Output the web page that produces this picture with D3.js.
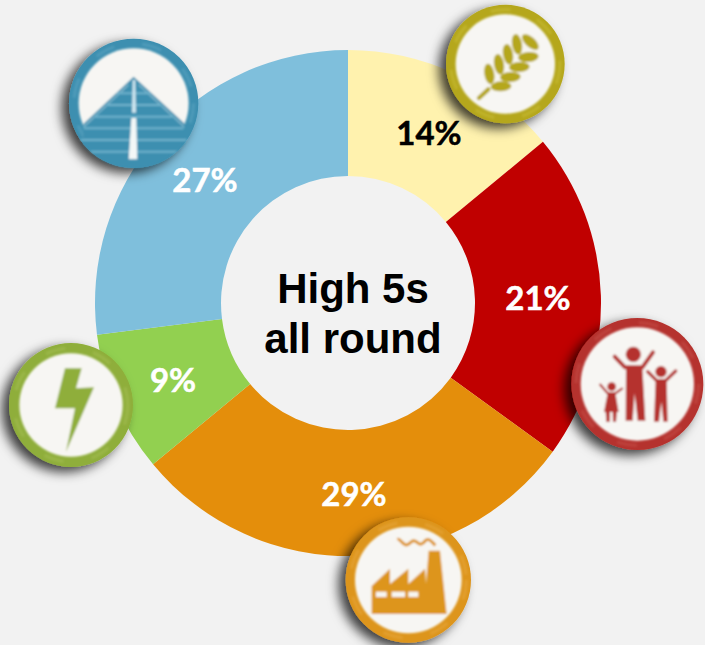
<!DOCTYPE html>
<html>
<head>
<meta charset="utf-8">
<script src="https://cdn.jsdelivr.net/npm/d3@7"></script>
<style>
    html, body { margin: 0; padding: 0; background: #f2f2f2; overflow: hidden; }
    text { font-family: "Liberation Sans", Arial, sans-serif; }
</style>
</head>
<body>
<div id="chart"></div>
<script>
const categories = ["Agriculture", "Families", "Industry", "Energy", "Roads"];
const shares = [14, 21, 29, 9, 27];
const sliceColors = ["#fff2ae", "#c00000", "#e48e0b", "#92d050", "#7fbfdc"];
const labelColors = ["#000000", "#ffffff", "#ffffff", "#ffffff", "#ffffff"];
const centerLines = ["High 5s", "all round"];

// hand placed, the labels don't sit on the centroids in the original
const labelSpots = [[429, 133], [538, 298], [354, 494], [173, 380], [205, 180]];

const width = 705;
const height = 645;
const center = { x: 348, y: 303 };
const outerRadius = 253;
const innerRadius = 127;

const svg = d3
    .select("#chart")
    .append("svg")
    .attr("width", width)
    .attr("height", height)
    .style("display", "block");

const defs = svg.append("defs");

// badges are scaled by 1/3 so these filter numbers are 3x what they look like
const shadow = defs.append("filter")
    .attr("id", "badge-shadow")
    .attr("x", "-40%").attr("y", "-40%")
    .attr("width", "180%").attr("height", "180%");
shadow.append("feDropShadow")
    .attr("dx", -21).attr("dy", 15)
    .attr("stdDeviation", 18)
    .attr("flood-color", "#000")
    .attr("flood-opacity", 0.75);

const soft = defs.append("filter").attr("id", "soft");
soft.append("feGaussianBlur").attr("stdDeviation", 2.5);

// Draw donut
const pie = d3.pie().sort(null).value(d => d.value);
const arc = d3.arc().innerRadius(innerRadius).outerRadius(outerRadius);

const slices = categories.map((name, i) => ({ name, value: shares[i] }));

svg.append("g")
    .attr("class", "slices")
    .attr("transform", `translate(${center.x}, ${center.y})`)
    .selectAll("path")
    .data(pie(slices))
    .enter()
    .append("path")
    .attr("d", arc)
    .attr("fill", (d, i) => sliceColors[i]);

// Badges. Icon shapes are traced in the 3x crop frame of each badge, hence the scale(1/3)
const badges = [
    { name: "Agriculture", origin: [440, 0], c: [196, 192], outer: 178, inner: 149, ring: "#b5a71c", light: "#d8cc4a", icon: wheat },
    { name: "Families", origin: [565, 310], c: [217, 222], outer: 198, inner: 170, ring: "#b5332e", light: "#d0625c", icon: family },
    { name: "Industry", origin: [340, 510], c: [205, 210], outer: 188, inner: 160, ring: "#dd951f", light: "#efb452", icon: factory },
    { name: "Energy", origin: [0, 340], c: [213, 195], outer: 186, inner: 155, ring: "#8fae3a", light: "#b3cb68", icon: bolt },
    { name: "Roads", origin: [60, 30], c: [221, 220], outer: 194, inner: 165, ring: "#3d8fb0", light: "#6fb2cc", icon: road }
];

badges.forEach(b => {
    const g = svg.append("g")
        .attr("class", "badge " + b.name.toLowerCase())
        .attr("transform", `translate(${b.origin[0]}, ${b.origin[1]}) scale(${1 / 3})`);

    g.append("circle")
        .attr("cx", b.c[0]).attr("cy", b.c[1])
        .attr("r", b.outer)
        .attr("fill", b.ring)
        .attr("filter", "url(#badge-shadow)");

    const art = g.append("g").attr("filter", "url(#soft)");

    art.append("circle")
        .attr("cx", b.c[0]).attr("cy", b.c[1])
        .attr("r", (b.outer + b.inner) / 2)
        .attr("fill", "none")
        .attr("stroke", b.light)
        .attr("stroke-width", 10)
        .attr("stroke-dasharray", "60 85")
        .attr("opacity", 0.3);

    art.append("circle")
        .attr("cx", b.c[0]).attr("cy", b.c[1])
        .attr("r", b.inner)
        .attr("fill", "#f7f6f3");

    b.icon(art, b);
});

function polygon(g, pts, fill) {
    g.append("path")
        .attr("d", "M" + pts.map(p => p.join(",")).join("L") + "Z")
        .attr("fill", fill);
}

function line(g, pts, color, w) {
    g.append("path")
        .attr("d", "M" + pts.map(p => p.join(",")).join("L"))
        .attr("fill", "none")
        .attr("stroke", color)
        .attr("stroke-width", w)
        .attr("stroke-linecap", "round")
        .attr("stroke-linejoin", "round");
}

function wheat(g, b) {
    const grains = [
        [148, 222, 80], [177, 193, 80], [204, 163, 80], [231, 133, 80],
        [271, 126, 42], [265, 171, -5], [238, 201, -3], [211, 231, -3], [183, 259, -3]
    ];
    grains.forEach(d => {
        g.append("ellipse")
            .attr("cx", d[0]).attr("cy", d[1])
            .attr("rx", 31).attr("ry", 15)
            .attr("transform", `rotate(${d[2]}, ${d[0]}, ${d[1]})`)
            .attr("fill", b.ring);
    });
    line(g, [[117, 294], [145, 268]], b.ring, 13);
}

function family(g, b) {
    const c = b.ring;
    // parent
    g.append("circle").attr("cx", 205).attr("cy", 133).attr("r", 23).attr("fill", c);
    line(g, [[149, 140], [180, 172], [232, 172], [264, 127]], c, 12);
    polygon(g, [[183, 168], [232, 168], [241, 332], [218, 332], [209, 250], [203, 332], [182, 332]], c);
    // older kid
    g.append("circle").attr("cx", 288).attr("cy", 185).attr("r", 17).attr("fill", c);
    line(g, [[248, 185], [275, 212], [302, 212], [332, 183]], c, 10);
    polygon(g, [[272, 208], [305, 208], [308, 335], [295, 335], [289, 275], [282, 335], [267, 335]], c);
    // small kid
    g.append("circle").attr("cx", 140).attr("cy", 230).attr("r", 13).attr("fill", c);
    line(g, [[106, 224], [128, 250], [151, 250], [171, 236]], c, 7);
    polygon(g, [[128, 248], [151, 248], [161, 306], [117, 306]], c);
    polygon(g, [[122, 304], [135, 304], [134, 336], [124, 336]], c);
    polygon(g, [[143, 304], [156, 304], [153, 336], [144, 336]], c);
}

function factory(g, b) {
    const c = b.ring;
    polygon(g, [
        [95, 312], [95, 228], [150, 176], [150, 222], [205, 176], [205, 222],
        [255, 176], [258, 222], [266, 122], [300, 122], [320, 312]
    ], c);
    [[108, 32], [155, 40], [205, 30]].forEach(d => {
        g.append("rect")
            .attr("x", d[0]).attr("y", 245)
            .attr("width", d[1]).attr("height", 16)
            .attr("fill", "#f7f6f3");
    });
    g.append("path")
        .attr("d", "M172,88 C182,84 190,110 202,104 C214,98 218,86 230,96 C240,106 248,104 256,92 C266,82 276,96 286,106")
        .attr("fill", "none")
        .attr("stroke", c)
        .attr("stroke-width", 9);
}

function bolt(g, b) {
    polygon(g, [[195, 85], [245, 85], [228, 145], [282, 142], [198, 335], [225, 205], [165, 205]], b.ring);
}

function road(g, b) {
    const clip = defs.append("clipPath").attr("id", "road-clip");
    clip.append("circle").attr("cx", b.c[0]).attr("cy", b.c[1]).attr("r", b.outer);
    const inside = g.append("g").attr("clip-path", "url(#road-clip)");
    polygon(inside, [[221, 140], [70, 282], [70, 420], [375, 420], [375, 282]], b.ring);
    // lighter edge lines of the road
    line(inside, [[205, 165], [72, 290]], "#a9d3e2", 3);
    line(inside, [[237, 165], [372, 290]], "#a9d3e2", 3);
    // bands on the slope
    [190, 225, 260, 295, 330, 365].forEach(y => {
        line(inside, [[221 - (y - 140) * 0.95, y], [221 + (y - 140) * 0.95, y]], b.light, 6);
    });
    polygon(inside, [[218, 150], [226, 150], [228, 248], [216, 248]], "#cfe6ef");
    polygon(inside, [[214, 264], [229, 264], [232, 388], [206, 388]], "#f3f7f7");
}

// Draw labels
svg.append("g")
    .attr("class", "labels")
    .selectAll("text")
    .data(shares)
    .enter()
    .append("text")
    .attr("x", (d, i) => labelSpots[i][0])
    .attr("y", (d, i) => labelSpots[i][1])
    .attr("dy", "0.35em")
    .attr("text-anchor", "middle")
    .attr("fill", (d, i) => labelColors[i])
    .attr("stroke", (d, i) => labelColors[i])
    .attr("stroke-width", 0.5)
    .style("font-family", "Lato, sans-serif")
    .style("font-weight", 700)
    .style("font-size", "33px")
    .text(d => d + "%");

svg.append("g")
    .attr("class", "center-text")
    .selectAll("text")
    .data(centerLines)
    .enter()
    .append("text")
    .attr("x", center.x + 5)
    .attr("y", (d, i) => 303 + i * 50)
    .attr("text-anchor", "middle")
    .attr("fill", "#000")
    .style("font-weight", 700)
    .style("font-size", "42px")
    .text(d => d);
</script>
</body>
</html>
